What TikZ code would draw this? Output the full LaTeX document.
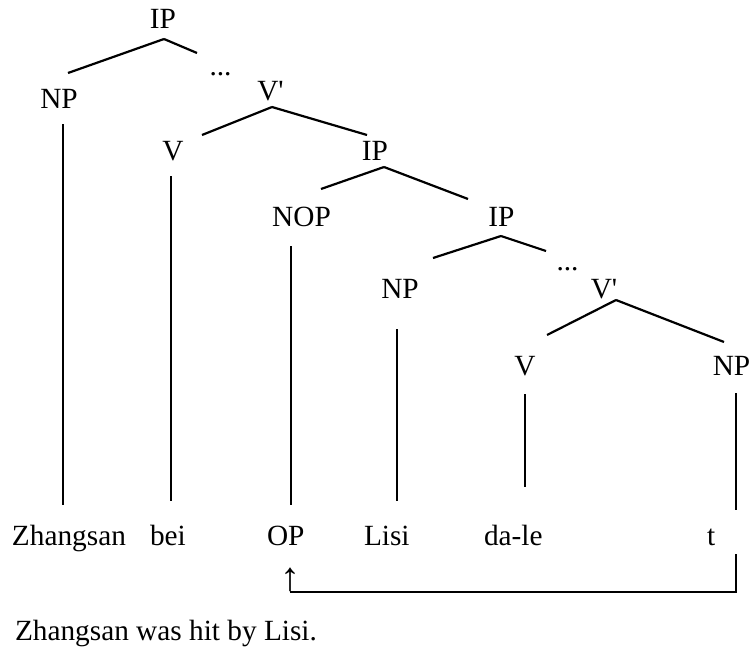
\documentclass[tikz,border=0pt]{standalone}
\usepackage{fontspec}
\setmainfont{Liberation Serif}
\newfontfamily\primefont{Liberation Serif}
\usetikzlibrary{calc}
\begin{document}
\begin{tikzpicture}[x=1pt,y=-1pt,
  lab/.style={inner sep=0pt,outer sep=0pt,anchor=base,font=\fontsize{29.3}{35}\selectfont},
  word/.style={inner sep=0pt,outer sep=0pt,anchor=base west,font=\fontsize{29.3}{35}\selectfont},
  edge/.style={line width=2.2pt},
  bracket/.style={line width=2.2pt}]
\useasboundingbox (0,0) rectangle (751,650);
% category labels
\node[lab] (ip1) at (163,29) {IP};
\node[lab] (np1) at (59,108) {NP};
\node[lab] (dots1) at (220.5,76) {...};
\node[lab,font=\fontsize{29.3}{35}\primefont] (vp1) at (270.5,100) {V'};
\node[lab] (v1) at (173,160) {V};
\node[lab] (ip2) at (375,160) {IP};
\node[lab] (nop) at (301.5,226) {NOP};
\node[lab] (ip3) at (501.5,226) {IP};
\node[lab] (np2) at (400,298) {NP};
\node[lab] (dots2) at (567.5,270) {...};
\node[lab,font=\fontsize{29.3}{35}\primefont] (vp2) at (604,298) {V'};
\node[lab] (v2) at (525,375) {V};
\node[lab] (np3) at (731.5,375) {NP};
% words
\node[word] (w1) at (12,545) {Zhangsan};
\node[word] (w2) at (150,545) {bei};
\node[word] (w3) at (267,545) {OP};
\node[word] (w4) at (364,545) {Lisi};
\node[word] (w5) at (484,545) {da-le};
\node[word] (w6) at (707,545) {t};
\node[lab,font=\fontsize{40}{44}\selectfont] (arr) at (290,590) {↑};
\node[word] (cap) at (15,640) {Zhangsan was hit by Lisi.};
% tree edges
\draw[edge] ($(ip1.base)+(1,10)$) -- ($(np1.base)+(9,-35)$);
\draw[edge] ($(ip1.base)+(1,10)$) -- ($(dots1.base)+(-23.5,-23)$);
\draw[edge] ($(vp1.base)+(1.5,7)$) -- ($(v1.base)+(29,-25)$);
\draw[edge] ($(vp1.base)+(1.5,7)$) -- ($(ip2.base)+(-8,-25)$);
\draw[edge] ($(ip2.base)+(9,7)$) -- ($(nop.base)+(19.5,-37)$);
\draw[edge] ($(ip2.base)+(9,7)$) -- ($(ip3.base)+(-33.5,-27)$);
\draw[edge] ($(ip3.base)+(-0.5,10)$) -- ($(np2.base)+(33,-40)$);
\draw[edge] ($(ip3.base)+(-0.5,10)$) -- ($(dots2.base)+(-21.5,-19)$);
\draw[edge] ($(vp2.base)+(12,2)$) -- ($(v2.base)+(22,-40)$);
\draw[edge] ($(vp2.base)+(12,2)$) -- ($(np3.base)+(-7.5,-33)$);
% vertical lines to words
\draw[edge] ($(np1.base)+(4,16)$) -- ($(w1.base west)+(51,-40)$);
\draw[edge] ($(v1.base)+(-2,16)$) -- ($(w2.base west)+(21,-44)$);
\draw[edge] ($(nop.base)+(-10.5,20)$) -- ($(w3.base west)+(24,-40)$);
\draw[edge] ($(np2.base)+(-3,31)$) -- ($(w4.base west)+(33,-44)$);
\draw[edge] ($(v2.base)+(0,19)$) -- ($(w5.base west)+(41,-58)$);
\draw[edge] ($(np3.base)+(4.5,18)$) -- ($(w6.base west)+(29,-35)$);
% movement bracket
\draw[bracket] ($(w6.base west)+(29,9)$) |- ($(arr.base)+(0,2)$);
\end{tikzpicture}
\end{document}
